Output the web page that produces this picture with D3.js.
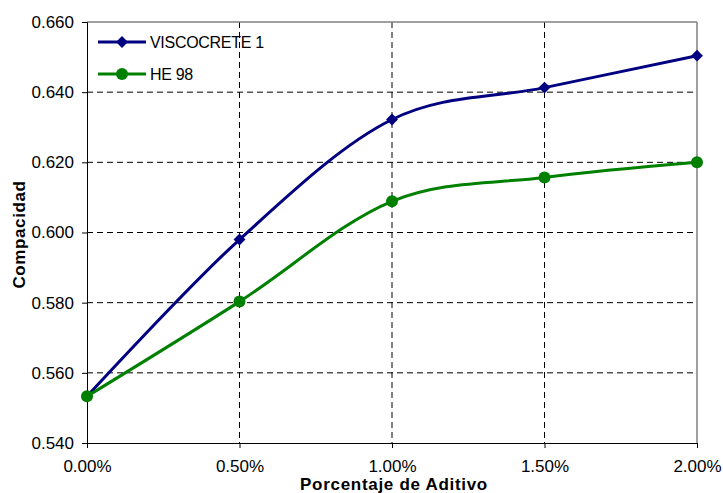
<!DOCTYPE html>
<html>
<head>
<script src="https://d3js.org/d3.v7.min.js"></script>
<style>
  body { margin: 0; background: #fff; }
  text { font-family: "Liberation Sans", Arial, sans-serif; }
</style>
</head>
<body>
<div id="chart"></div>
<script>
// data
const aditivo = [0, 0.005, 0.010, 0.015, 0.020];
const viscocrete = [0.5533, 0.598, 0.6322, 0.6413, 0.6504];
const he98 = [0.5533, 0.5803, 0.6089, 0.6157, 0.6200];
const xTicks = [0, 0.005, 0.010, 0.015, 0.020];
const yTicks = [0.540, 0.560, 0.580, 0.600, 0.620, 0.640, 0.660];

const W = 723, H = 493;
const margin = { top: 22, right: 26, bottom: 50, left: 87 };
const width = W - margin.left - margin.right,
      height = H - margin.top - margin.bottom;

const svg = d3.select("#chart").append("svg")
    .attr("width", W).attr("height", H);
const g = svg.append("g")
    .attr("transform", `translate(${margin.left},${margin.top})`);

const x = d3.scaleLinear().domain([0, 0.02]).range([0, width]);
const y = d3.scaleLinear().domain([0.54, 0.66]).range([height, 0]);

// gridlines
g.append("g").selectAll("line")
  .data(yTicks.filter(d => d > 0.54 && d < 0.66))
  .enter().append("line")
    .attr("x1", 0).attr("x2", width)
    .attr("y1", d => y(d)).attr("y2", d => y(d))
    .attr("stroke", "#000").attr("stroke-dasharray", "6,4");
g.append("g").selectAll("line")
  .data(xTicks.filter(d => d > 0 && d < 0.02))
  .enter().append("line")
    .attr("y1", 0).attr("y2", height)
    .attr("x1", d => x(d)).attr("x2", d => x(d))
    .attr("stroke", "#000").attr("stroke-dasharray", "6,4");

// plot border (top and right)
g.append("line").attr("x1", 0).attr("x2", width).attr("y1", 0).attr("y2", 0)
  .attr("stroke", "#808080").attr("stroke-width", 1.5);
g.append("line").attr("x1", width).attr("x2", width).attr("y1", 0).attr("y2", height)
  .attr("stroke", "#808080").attr("stroke-width", 1.5);

// axes
const xAxis = g.append("g")
    .attr("transform", `translate(0,${height})`)
    .call(d3.axisBottom(x).tickValues(xTicks).tickFormat(d3.format(".2%")).tickSizeOuter(0).tickSize(5).tickPadding(12));
const yAxis = g.append("g")
    .call(d3.axisLeft(y).tickValues(yTicks).tickFormat(d3.format(".3f")).tickSizeOuter(0).tickSize(5).tickPadding(8));
[xAxis, yAxis].forEach(a => {
  a.select(".domain").attr("stroke", "#000");
  a.selectAll(".tick line").attr("stroke", "#000");
  a.selectAll("text").attr("font-size", 17).attr("fill", "#000")
    .attr("font-family", "Liberation Sans, Arial, sans-serif");
});

// lines
const line = d3.line()
    .x(d => x(d[0])).y(d => y(d[1]))
    .curve(d3.curveCardinal.tension(0));

const series = [
  { name: "VISCOCRETE 1", values: viscocrete, color: "#000080", marker: "diamond" },
  { name: "HE 98", values: he98, color: "#008000", marker: "circle" }
];

series.forEach(s => {
  const pts = aditivo.map((a, i) => [a, s.values[i]]);
  g.append("path").datum(pts)
    .attr("d", line).attr("fill", "none")
    .attr("stroke", s.color).attr("stroke-width", 3);
  if (s.marker === "circle") {
    g.selectAll(null).data(pts).enter().append("circle")
      .attr("cx", d => x(d[0])).attr("cy", d => y(d[1]))
      .attr("r", 6).attr("fill", s.color);
  } else {
    g.selectAll(null).data(pts).enter().append("path")
      .attr("d", d3.symbol().type(d3.symbolDiamond2).size(90))
      .attr("transform", d => `translate(${x(d[0])},${y(d[1])})`)
      .attr("fill", s.color);
  }
});

// legend
const legend = g.selectAll(".legend").data(series).enter().append("g")
    .attr("class", "legend")
    .attr("transform", (d, i) => `translate(11,${20 + i * 32})`);
legend.append("line").attr("x1", 0).attr("x2", 48)
    .attr("stroke", d => d.color).attr("stroke-width", 3);
legend.each(function(d) {
  const el = d3.select(this);
  if (d.marker === "circle") {
    el.append("circle").attr("cx", 24).attr("r", 6).attr("fill", d.color);
  } else {
    el.append("path").attr("d", d3.symbol().type(d3.symbolDiamond2).size(90))
      .attr("transform", "translate(24,0)").attr("fill", d.color);
  }
});
legend.append("text").attr("x", 52).attr("y", 6)
    .attr("font-size", 16).attr("letter-spacing", -0.3)
    .text(d => d.name);

// axis titles
svg.append("text")
    .attr("x", margin.left + width / 2 + 2).attr("y", 490)
    .attr("text-anchor", "middle").attr("font-size", 17).attr("font-weight", "bold")
    .attr("letter-spacing", 0.7)
    .text("Porcentaje de Aditivo");
svg.append("text")
    .attr("transform", `translate(25,${margin.top + height / 2 + 2}) rotate(-90)`)
    .attr("text-anchor", "middle").attr("font-size", 17).attr("font-weight", "bold")
    .attr("letter-spacing", 0.6)
    .text("Compacidad");
</script>
</body>
</html>
